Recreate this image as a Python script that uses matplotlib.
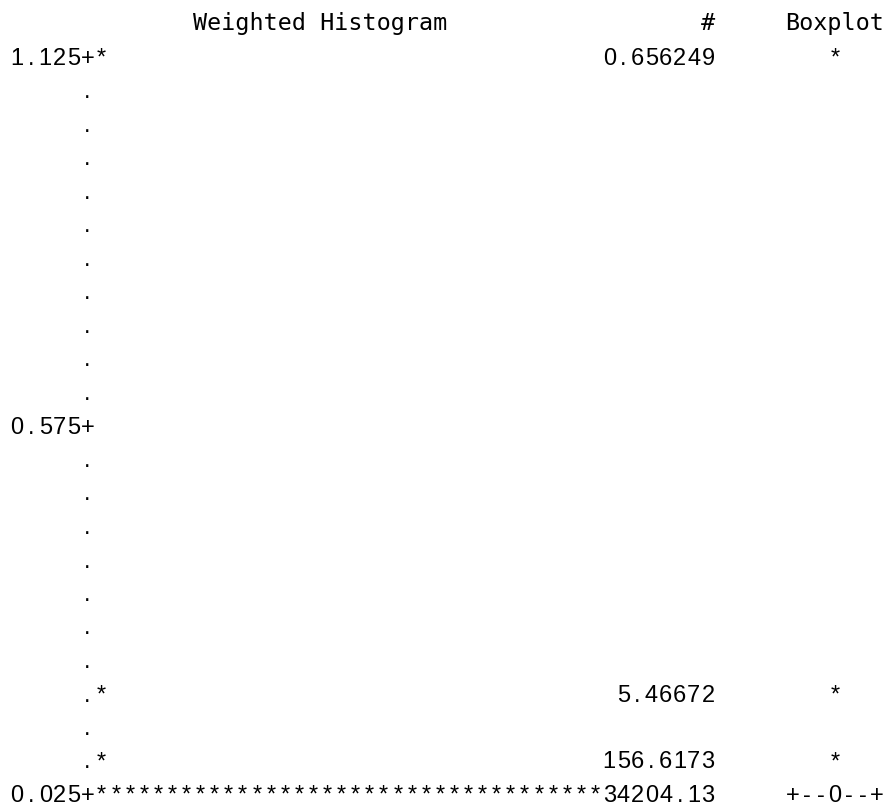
import numpy as np
import matplotlib
matplotlib.use("Agg")
import matplotlib.pyplot as plt

# weighted histogram listing (SAS style), rows are bin midpoints
bins = [1.125, 0.175, 0.075, 0.025]
counts = [0.656249, 5.46672, 156.6173, 34204.13]
bar_len = [1, 1, 1, 36]
box_marks = ["*", "*", "*", "+--0--+"]
ticks = [1.125, 0.575, 0.025]
step = 0.05

mono = ["DejaVu Sans Mono"]
sans = ["Liberation Sans", "DejaVu Sans"]
cw = 14.1  # pixel width of one character cell


def best8(v):
    ndec = max(8 - len(str(int(v))) - 1, 0)
    s = f"{v:.{ndec}f}"
    if "." in s:
        s = s.rstrip("0").rstrip(".")
    return s


fig = plt.figure(figsize=(8.92, 8.09), dpi=100)
ax = fig.add_axes([0, 0, 1, 1])
ax.axis("off")

# x in character columns, y in data units (one row = one bin)
ax.set_xlim(-10 / cw, (892 - 10) / cw)
row_px = 33.5
k = row_px / step
ax.set_ylim(1.125 - (809 - 65) / k, 1.125 + 65 / k)


def cells(col, y, s, ha="left"):
    # listing text: each character centred in its own column cell
    if ha == "right":
        col = col - len(s)
    elif ha == "center":
        col = col - len(s) / 2
    for i, ch in enumerate(s):
        if ch != " ":
            ax.text(col + i + 0.5, y, ch, ha="center", va="baseline",
                    family=sans, fontsize=17, color="black")


hkw = dict(family=mono, fontsize=16.85, va="baseline", color="black")
yh = 1.125 + 1.03 * step
ax.text(13, yh, "Weighted Histogram", ha="left", **hkw)
ax.text(50, yh, "#", ha="right", **hkw)
ax.text(55, yh, "Boxplot", ha="left", **hkw)

# vertical axis: tick labels and dots
nrows = int(round((max(ticks) - min(ticks)) / step)) + 1
rows = np.round(np.linspace(min(ticks), max(ticks), nrows), 3)
for r in rows:
    if any(abs(r - t) < 1e-9 for t in ticks):
        cells(6, r, f"{r:.3f}+", ha="right")
    else:
        cells(5, r, ".")

# bars, counts, boxplot
for b, c, n, m in zip(bins, counts, bar_len, box_marks):
    cells(6, b, "*" * n)
    cells(50, b, best8(c), ha="right")
    cells(58.5, b, m, ha="center")

fig.savefig("out.png", dpi=100)
